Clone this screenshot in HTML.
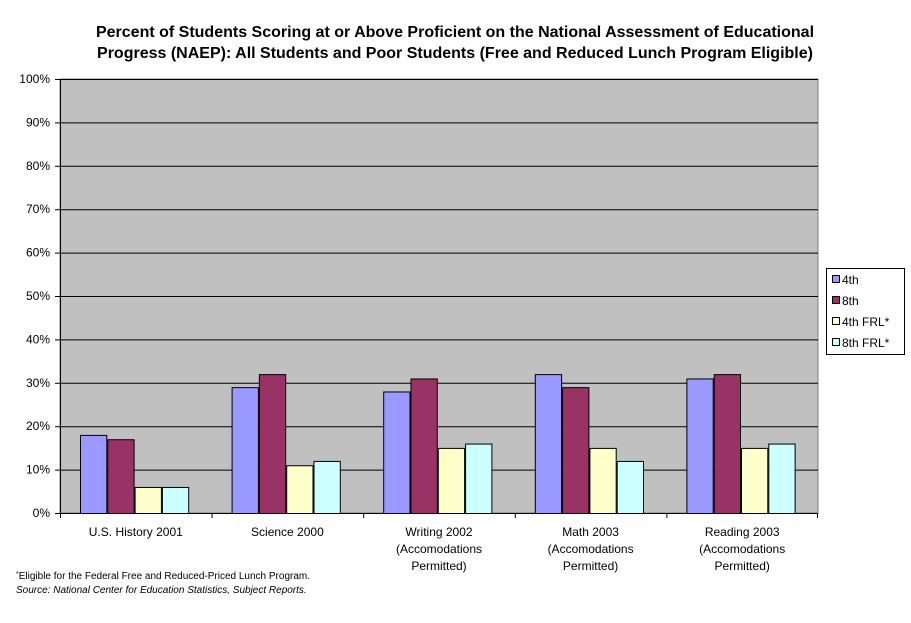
<!DOCTYPE html>
<html><head><meta charset="utf-8"><style>
body{margin:0;background:#fff;}
svg{display:block;font-family:"Liberation Sans",Arial,sans-serif;}
</style></head><body>
<svg id="c" width="911" height="623">
<text x="455" y="37" text-anchor="middle" font-size="16" font-weight="bold">Percent of Students Scoring at or Above Proficient on the National Assessment of Educational</text>
<text x="455" y="58" text-anchor="middle" font-size="16" font-weight="bold">Progress (NAEP): All Students and Poor Students (Free and Reduced Lunch Program Eligible)</text>
<rect x="60" y="79" width="758" height="434" fill="#c0c0c0" stroke="#808080"/>
<g id="grid"></g><g id="bars"></g><g id="axes"></g>
<g>
<rect x="826.5" y="268.5" width="78" height="86" fill="#fff" stroke="#000"/>
<g id="leg"></g>
</g>
<text x="16" y="579" font-size="10"><tspan font-size="7" dy="-3">*</tspan><tspan dy="3">Eligible for the Federal Free and Reduced-Priced Lunch Program.</tspan></text>
<text x="16" y="593" font-size="10" font-style="italic">Source: National Center for Education Statistics, Subject Reports.</text>
</svg>
<script>
const categories=[["U.S. History 2001"],["Science 2000"],["Writing 2002","(Accomodations","Permitted)"],["Math 2003","(Accomodations","Permitted)"],["Reading 2003","(Accomodations","Permitted)"]];
const seriesNames=["4th","8th","4th FRL*","8th FRL*"];
const s4th=[18,29,28,32,31];
const s8th=[17,32,31,29,32];
const s4thFRL=[6,11,15,15,15];
const s8thFRL=[6,12,16,12,16];
const yTicks=[0,10,20,30,40,50,60,70,80,90,100];
const colors=["#9999ff","#993366","#ffffcc","#ccffff"];
const series=[s4th,s8th,s4thFRL,s8thFRL];
const NS="http://www.w3.org/2000/svg";
const X0=60,X1=818,Y0=513,Y1=79;
const y=v=>Y0-(v/100)*(Y0-Y1);
const cw=(X1-X0)/categories.length;
const x=i=>X0+i*cw;
function mk(t,a,p){const e=document.createElementNS(NS,t);for(const k in a)e.setAttribute(k,a[k]);p.appendChild(e);return e;}
const grid=document.getElementById('grid'),bars=document.getElementById('bars'),axes=document.getElementById('axes'),leg=document.getElementById('leg');
yTicks.forEach(t=>{
 if(t>0){const l=mk('line',{x1:X0,x2:X1,y1:y(t)+.5,y2:y(t)+.5,stroke:'#000'},grid);
 
 }
 mk('line',{x1:X0-5,x2:X0,y1:y(t)+.5,y2:y(t)+.5,stroke:'#000'},axes);
 const tx=mk('text',{x:X0-10,y:y(t)+4,'text-anchor':'end','font-size':12},axes);tx.textContent=t+'%';
 
 
});
mk('line',{x1:X0+.5,x2:X0+.5,y1:Y1,y2:Y0,stroke:'#000'},axes);
mk('line',{x1:X0,x2:X1,y1:Y0+.5,y2:Y0+.5,stroke:'#000'},axes);
const bw=27.3,off=20;
categories.forEach((c,i)=>{
 mk('line',{x1:x(i)+.5,x2:x(i)+.5,y1:Y0,y2:Y0+5,stroke:'#000'},axes);
 if(i==categories.length-1)mk('line',{x1:X1-.5,x2:X1-.5,y1:Y0,y2:Y0+5,stroke:'#000'},axes);
 c.forEach((ln,j)=>{const t=mk('text',{x:x(i)+cw/2,y:536+j*17,'text-anchor':'middle','font-size':12},axes);t.textContent=ln;
 
 });
 series.forEach((s,k)=>{
  const r=mk('rect',{x:x(i)+off+k*bw+.5,y:y(s[i])+.5,width:bw-1,height:Y0-y(s[i]),fill:colors[k],stroke:'#000'},bars);
  
  
 });
});
seriesNames.forEach((n,k)=>{
 const yy=280+k*21;
 mk('rect',{x:832.5,y:yy-4.5,width:7,height:7,fill:colors[k],stroke:'#000'},leg);
 const t=mk('text',{x:842,y:yy+4,'font-size':12},leg);t.textContent=n;
 
 
});
</script>
</body></html>
